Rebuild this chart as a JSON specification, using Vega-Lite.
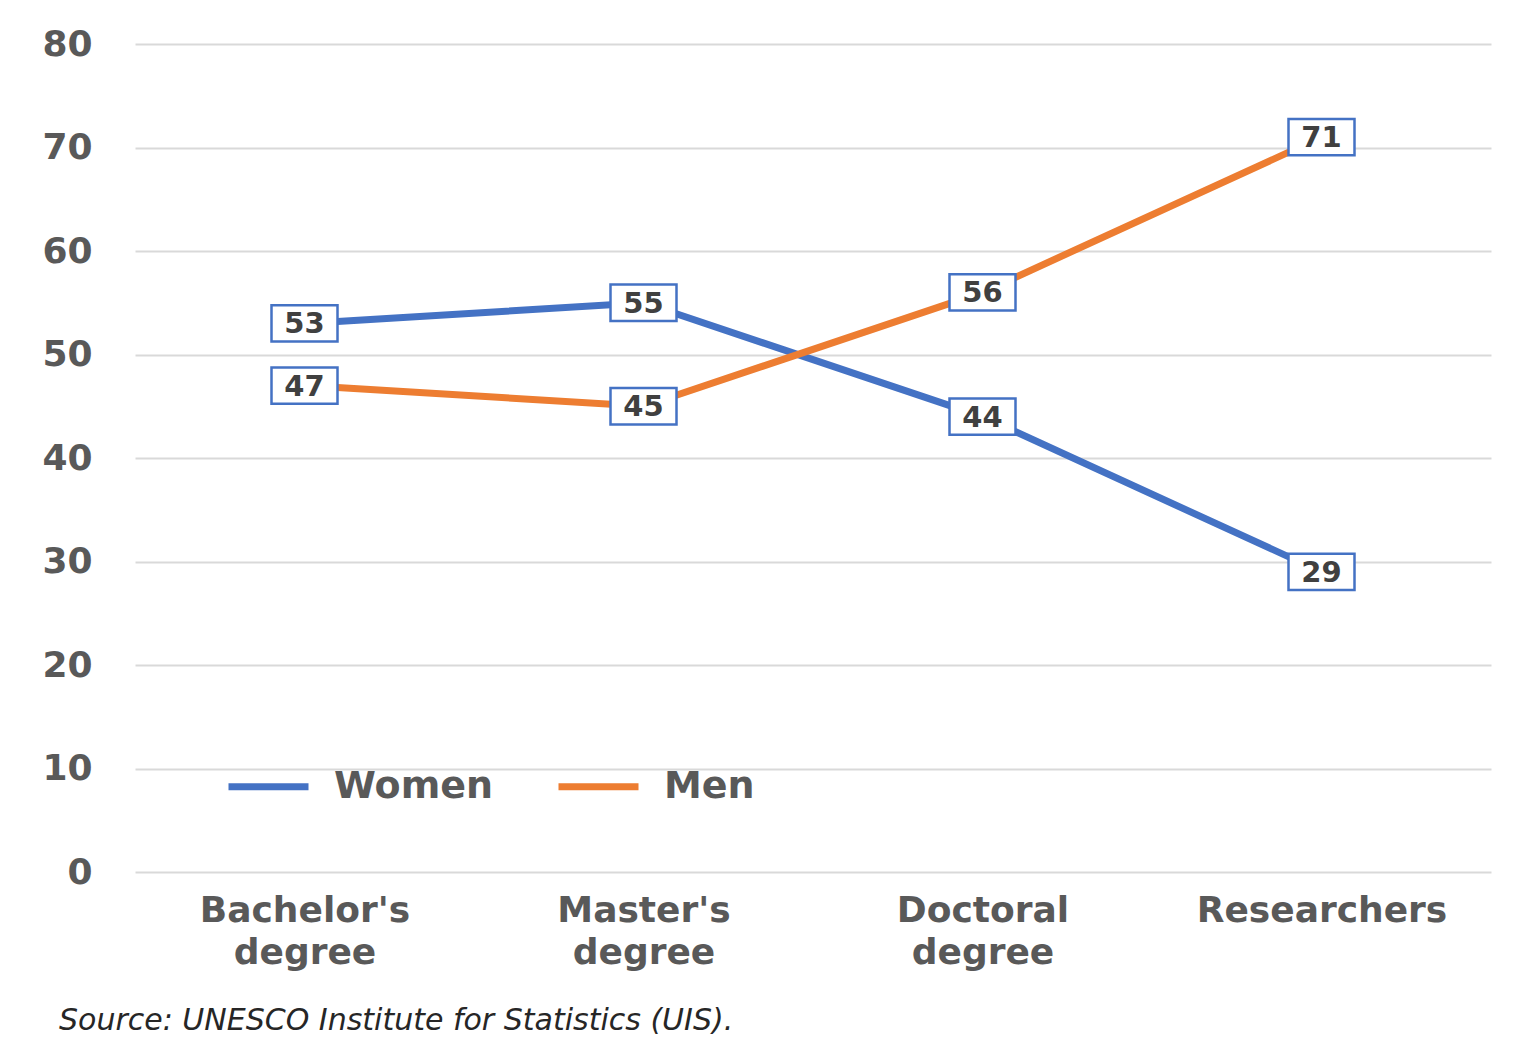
{
  "$schema": "https://vega.github.io/schema/vega-lite/v6.json",
  "autosize": {"type": "none"},
  "width": 1356,
  "height": 828,
  "padding": {"left": 135, "top": 44, "right": 26, "bottom": 175},
  "background": "white",
  "config": {
    "view": {"stroke": null},
    "font": "DejaVu Sans"
  },
  "title": {
    "text": "Source: UNESCO Institute for Statistics (UIS).",
    "orient": "bottom",
    "anchor": "start",
    "frame": "group",
    "dx": -76,
    "offset": 36,
    "font": "DejaVu Sans",
    "fontStyle": "italic",
    "fontWeight": "normal",
    "fontSize": 30,
    "color": "#262626"
  },
  "data": {
    "values": [
      {"level": "Bachelor's degree", "gender": "Women", "value": 53},
      {"level": "Master's degree", "gender": "Women", "value": 55},
      {"level": "Doctoral degree", "gender": "Women", "value": 44},
      {"level": "Researchers", "gender": "Women", "value": 29},
      {"level": "Bachelor's degree", "gender": "Men", "value": 47},
      {"level": "Master's degree", "gender": "Men", "value": 45},
      {"level": "Doctoral degree", "gender": "Men", "value": 56},
      {"level": "Researchers", "gender": "Men", "value": 71}
    ]
  },
  "encoding": {
    "x": {
      "field": "level",
      "type": "nominal",
      "sort": null,
      "scale": {"paddingInner": 0, "paddingOuter": 0},
      "axis": {
        "title": null,
        "domain": false,
        "ticks": false,
        "labelAngle": 0,
        "labelExpr": "split(datum.label, ' ')",
        "labelFont": "DejaVu Sans",
        "labelFontSize": 36,
        "labelFontWeight": "bold",
        "labelColor": "#595959",
        "labelLineHeight": 42,
        "labelPadding": 21,
        "labelBaseline": "top",
        "labelLimit": 600
      }
    },
    "y": {
      "field": "value",
      "type": "quantitative",
      "scale": {"domain": [0, 80], "nice": false},
      "axis": {
        "title": null,
        "domain": false,
        "ticks": false,
        "values": [0, 10, 20, 30, 40, 50, 60, 70, 80],
        "labelFont": "DejaVu Sans",
        "labelFontSize": 36,
        "labelFontWeight": "bold",
        "labelColor": "#595959",
        "labelPadding": 43,
        "gridColor": "#d9d9d9",
        "gridWidth": 2
      }
    }
  },
  "layer": [
    {
      "mark": {"type": "line", "strokeWidth": 7, "strokeCap": "round"},
      "encoding": {
        "color": {
          "field": "gender",
          "type": "nominal",
          "sort": ["Women", "Men"],
          "scale": {"domain": ["Women", "Men"], "range": ["#4472c4", "#ed7d31"]},
          "legend": {
            "title": null,
            "orient": "none",
            "direction": "horizontal",
            "legendX": 90,
            "legendY": 699,
            "symbolType": "stroke",
            "symbolSize": 6400,
            "symbolStrokeWidth": 7,
            "labelFont": "DejaVu Sans",
            "labelFontSize": 38,
            "labelFontWeight": "bold",
            "labelColor": "#595959",
            "labelOffset": 22,
            "columnPadding": 50
          }
        }
      }
    },
    {
      "mark": {
        "type": "point",
        "shape": "M-1,-0.55H1V0.55H-1Z",
        "filled": true,
        "fill": "white",
        "stroke": "#4472c4",
        "strokeWidth": 2.5,
        "size": 4356,
        "opacity": 1
      }
    },
    {
      "mark": {
        "type": "text",
        "font": "DejaVu Sans",
        "fontSize": 29,
        "fontWeight": "bold",
        "color": "#404040",
        "baseline": "middle",
        "dy": 1
      },
      "encoding": {"text": {"field": "value", "type": "quantitative"}}
    }
  ]
}
